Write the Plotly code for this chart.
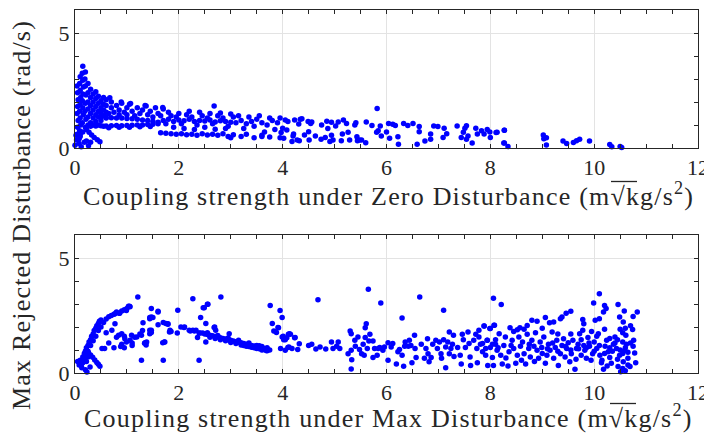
import plotly.graph_objects as go

# ---------------- top panel data (zero disturbance) ----------------
tA_x = [0.04,0.05,0.06,0.04,0.05,0.06,0.05,0.04, 0.1,0.09,0.11,0.1,0.09,0.1,0.11,0.1,0.09,0.1, 0.15,0.14,0.16,0.15,0.14,0.15,0.16,0.15,0.14,0.15, 0.2,0.21,0.19,0.2,0.21,0.2,0.19,0.2]
tA_y = [0.6,0.9,1.2,1.5,1.8,2.1,2.4,2.7, 0.5,0.75,1.0,1.3,1.6,1.9,2.2,2.5,2.8,3.1, 0.7,1.1,1.45,1.75,2.05,2.35,2.65,2.95,3.25,3.55, 0.9,1.25,1.6,1.95,2.3,2.7,3.0,3.3]
tB_x = [0.25,0.25,0.25,0.25,0.25,0.25, 0.3,0.3,0.3,0.3,0.3, 0.35,0.35,0.35,0.35,0.35, 0.4,0.4,0.4,0.4,0.4, 0.45,0.45,0.45,0.45,0.45, 0.5,0.5,0.5,0.5, 0.55,0.55,0.55,0.55,0.55, 0.6,0.6,0.6,0.6]
tB_y = [1.0,1.35,1.7,2.0,2.4,2.8, 1.1,1.5,1.85,2.2,2.55, 1.0,1.3,1.65,2.0,2.35, 1.15,1.45,1.8,2.15,2.45, 1.0,1.35,1.6,1.95,2.25, 1.2,1.5,1.75,2.05, 0.95,1.4,1.65,1.9,2.2, 1.3,1.55,1.85,2.1]
tC_x = [0.3,0.4,0.5,0.6,0.7,0.8,0.9,1.0,1.1,1.2,1.3,1.4,1.5,1.6, 0.65,0.85,1.05,1.25,1.45]
tC_y = [0.95,0.96,0.97,0.96,0.97,0.98,0.97,0.98,0.99,1.0,1.0,1.02,1.03,1.05, 0.88,0.9,0.9,0.92,0.93]
tD_x = [0.5,0.6,0.7,0.8,0.9,1.0,1.1,1.2,1.3,1.4,1.5,1.6]
tD_y = [1.35,1.33,1.32,1.3,1.3,1.28,1.27,1.25,1.22,1.2,1.16,1.12]
tE_x = [0.65,0.7,0.7,0.75,0.8,0.85,0.85,0.9,0.95,1.0,1.0,1.05,1.1,1.15,1.2,1.25,1.3,1.35,1.4,1.45,1.5,1.55,1.6,1.65,1.7, 0.67,0.89,1.07,1.37,1.69]
tE_y = [1.5,1.75,2.0,1.55,1.85,1.45,1.65,1.95,1.55,1.75,1.45,1.9,1.6,1.4,1.75,1.5,1.65,1.85,1.45,1.6,1.35,1.75,1.5,1.4,1.7, 2.19,2.0,1.93,1.83,1.76]
tF_x = [0.22,0.27,0.32,0.37,0.43,0.48, 0.02,0.06,0.1,0.0,0.08,0.12,0.18,0.22,0.26,0.3, 0.03,0.08]
tF_y = [0.8,0.68,0.56,0.46,0.36,0.27, 0.55,0.55,0.6,0.12,0.2,0.05,0.25,0.3,0.1,0.25, 0.35,0.4]
tG_x = [1.65,1.75,1.85,1.95,2.05,2.15,2.25,2.35,2.45,2.55,2.65,2.75,2.85,2.95,3.05, 3.0,3.2,3.45,3.6,3.75,3.95,4.2]
tG_y = [0.66,0.64,0.62,0.6,0.62,0.58,0.6,0.55,0.62,0.57,0.6,0.55,0.62,0.5,0.58, 0.45,0.5,0.45,0.5,0.48,0.45,0.52]
tH_x = [1.7,1.8,1.9,2.0,2.1,2.2,2.3,2.4,2.5,2.6,2.7,2.8,2.9,3.0,
        1.75,1.85,1.95,2.05,2.15,2.25,2.35,2.45,2.55,2.65,2.75,2.85,2.95,3.05,
        1.8,2.0,2.2,2.4,2.6,2.8,3.0,2.68,
        1.9,2.1,2.3,2.5,2.7,2.9,
        3.1,3.2,3.3,3.4,3.5,3.6,3.7,3.8,3.9,3.15,3.35,3.55,3.75,3.95,3.25,3.45,3.65,3.85,3.3,3.6]
tH_y = [1.2,1.25,1.15,1.22,1.18,1.25,1.15,1.2,1.17,1.22,1.13,1.18,1.15,1.12,
        1.05,1.4,1.35,1.05,1.45,1.35,1.0,1.4,1.3,1.05,1.4,1.3,0.95,1.35,
        1.55,1.5,1.6,1.55,1.5,1.52,1.48,1.83,
        0.9,0.85,0.8,0.9,0.82,0.85,
        1.1,1.2,1.05,1.15,1.25,1.1,1.0,1.2,1.1,1.4,1.35,1.4,1.3,1.3,0.85,0.95,0.7,0.8,0.6,0.55]
tI_x = [4.0,3.97,4.02,4.05,4.1,4.08,4.18,4.23,4.28,4.32,
        4.34,4.37,4.31,4.21,4.42,4.49,4.5,4.51,4.54,4.56,
        4.63,4.74,4.75,4.82,4.85,4.87,4.91,4.94,4.94,4.97,
        5.02,5.07,5.13,5.15,5.17,5.23,5.26,5.29,5.39,5.41,
        5.43,5.44,5.48,5.52,5.6,5.61,5.72,5.81,5.84,5.88,
        5.9,6.0,6.04,6.06,6.12,6.17,6.22,6.23,6.33,6.41,
        6.51,6.59,6.63,6.63,6.74,6.85,6.85,6.91,6.99,7.09,
        7.11,7.16,7.36,7.44,7.48,7.51,7.54,7.54,7.57,7.65,
        7.72,7.75,7.83,7.88,7.94,7.99,8.0,8.11,8.27,8.26,
        8.34,5.82]
tI_y = [0.86,0.67,0.42,1.22,1.15,0.78,0.28,1.22,0.35,0.32,
        1.25,1.27,1.04,0.61,0.57,1.15,0.71,0.35,1.07,1.13,
        0.52,0.38,1.0,0.46,1.16,0.85,0.28,1.12,0.55,0.35,
        0.96,1.13,0.32,0.61,1.22,1.07,0.68,0.35,1.0,1.1,
        0.49,0.32,0.35,0.35,0.23,1.13,0.98,0.68,0.75,0.96,
        0.52,0.70,1.07,0.42,1.03,0.98,0.49,0.16,1.07,0.98,
        1.07,0.16,0.93,0.71,0.30,0.61,0.38,0.96,0.93,0.46,
        0.86,0.62,0.96,0.46,0.68,0.86,0.97,0.38,0.52,0.22,
        0.86,0.61,0.75,0.61,0.80,0.70,0.46,0.67,0.77,0.22,
        0.06,1.72]
tJ_x = [8.13,8.27,8.27,9.02,9.03,9.08,9.08,9.4,9.47,9.6,9.66,9.72,9.91,10.3,10.34,10.5,10.53]
tJ_y = [0.69,0.77,0.22,0.57,0.4,0.45,0.13,0.3,0.2,0.24,0.32,0.38,0.3,0.15,0.05,0.07,0.02]

# ---------------- bottom panel data (max disturbance) ----------------
bA_x = [0.1,0.13,0.2,0.23,0.29,0.17,0.08,0.15,0.22,0.25,0.05,0.12]
bA_y = [0.55,0.23,0.14,0.04,0.26,0.63,0.35,0.45,0.5,0.7,0.5,0.35]
bB_x = [0.15,0.18,0.2,0.22,0.25,0.27,0.3,0.32,0.35,0.37,0.4,0.42,0.45,0.47,0.5,
        0.2,0.25,0.3,0.35,0.4,0.45,0.5,0.55,0.6,0.65,0.7,0.75,0.8,0.85,0.9,0.95,1.0,1.03,1.06]
bB_y = [0.7,0.85,0.95,1.1,1.2,1.35,1.45,1.6,1.7,1.85,1.95,2.05,2.15,2.25,2.3,
        0.75,0.95,1.2,1.4,1.6,1.85,2.0,2.2,2.35,2.45,2.5,2.55,2.65,2.6,2.7,2.75,2.8,2.9,2.88]
bC_x = [0.22,0.26,0.3,0.34,0.38,0.42,0.45,0.48, 0.52,0.57,0.75,0.95,1.1,0.6,0.65,0.8]
bC_y = [0.99,0.88,0.78,0.68,0.57,0.46,0.38,0.29, 1.06,1.06,1.1,1.1,1.2,1.75,1.3,1.55]
bD_x = [0.71,0.77,0.84,0.9,0.96,0.99,1.06,1.09,1.19,1.28,1.38,1.44,1.47,1.44,1.47,1.6,1.47,1.35,1.73,1.83,1.79,1.98,1.97,1.28,1.7,2.11,2.2,
        1.21,2.27,2.81,2.55,2.47,2.42,1.6,1.05,0.99,0.77,0.86,2.39,
        1.75,1.79,1.82,2.04,2.27,2.33,2.39,2.46,2.52,2.68,2.71,2.36,2.52,1.44,1.47,1.34,1.37,1.72,1.31,1.44,1.5,1.69,
        2.22,2.3,2.41,2.97,2.69,2.1,2.49,2.56,
        1.3,1.25,1.1,1.15,0.95,0.9,0.88,1.7,1.85,1.6]
bD_y = [1.86,2.14,1.64,1.71,1.49,1.35,1.42,1.64,1.56,1.64,1.35,1.71,1.86,2.36,2.44,2.65,2.8,1.31,1.35,1.86,2.14,2.73,1.74,0.55,0.55,2.0,1.86,
        3.3,3.23,3.3,2.99,2.84,2.41,2.69,2.9,2.72,2.58,2.6,0.55,
        2.15,2.12,1.78,2.0,1.86,1.86,1.74,1.74,2.15,1.98,1.86,1.54,1.35,1.86,1.76,1.29,1.22,1.35,2.18,2.41,2.41,1.32,
        1.83,1.83,1.74,1.71,2.0,1.98,2.84,2.99,
        1.85,1.7,1.3,1.55,1.6,1.25,1.15,2.2,1.8,2.1]
bE_x = [2.50,2.55,2.60,2.65,2.70,2.75,2.80,2.85,2.90,2.95,3.00,3.05,3.10,3.15,3.20,3.25,3.30,3.35,3.40,3.45,3.50,3.55,3.60,3.65,3.70,3.75,
        2.6,2.7,2.8,2.9,3.0,3.1,3.2,3.3,3.4,3.5,3.6,3.7,
        2.55,2.75,2.95,3.15,3.35,3.55,3.7,
        3.25,3.35,3.45,3.55,3.62,3.68,3.5,3.6]
bE_y = [1.70,1.67,1.64,1.62,1.59,1.56,1.53,1.50,1.48,1.45,1.42,1.39,1.36,1.34,1.31,1.28,1.25,1.22,1.20,1.17,1.14,1.11,1.08,1.06,1.03,1.00,
        1.55,1.5,1.45,1.4,1.33,1.28,1.22,1.16,1.12,1.06,1.0,0.97,
        1.75,1.63,1.52,1.42,1.3,1.18,1.1,
        1.2,1.15,1.1,1.05,1.02,0.98,1.2,1.15]
bF_x = [3.76,3.95,3.99,3.8,3.83,3.91,4.11,4.24,3.88,4.01,3.96,4.05,4.13,4.02,4.12,4.18,4.08,3.92,4.05,4.15,4.23,4.32,4.1,4.29,3.99]
bF_y = [2.94,2.72,2.41,2.15,1.83,1.98,1.68,1.54,1.76,1.6,1.06,0.99,1.71,1.45,1.13,1.06,1.53,1.97,1.45,1.68,1.53,1.27,1.11,1.02,1.57]
bG_x = [5.65,4.68,5.89,6.64,7.1,8.06,6.3,5.61,5.59,5.3,5.32,
        4.5,4.56,4.64,4.72,4.83,4.94,4.97,5.04,5.07,5.1,
        5.26,5.32,5.33,5.32,5.39,5.4,5.45,5.48,5.52,5.55,
        5.57,5.59,5.63,5.66,5.68,5.74,5.74,5.77,5.82,5.84,
        5.87,5.93,5.96,6.03,6.03,6.09,6.12,6.19,6.22,6.25,
        6.3,6.33,6.35,6.36,6.42,6.44,6.47,6.49,6.54,6.55,
        6.57,6.67,6.73,6.76,6.79,6.8,6.82,6.86,6.89,6.95,
        6.98,7.02,7.05,7.06,7.1,7.14,7.14,7.18,7.21,7.21,
        7.24,7.27,7.29,7.3,7.37,7.42,7.44,7.46,7.48,7.52,
        7.57,7.59,7.61,7.62,7.68,7.72,7.74,7.75,7.78,7.81,
        7.85,7.88,7.91,7.94,7.95,7.99,8.0,8.04,8.06,8.08,8.1]
bG_y = [3.64,3.19,3.04,3.3,2.73,3.25,2.39,2.14,1.97,1.83,1.71,
        1.2,1.25,1.04,1.13,1.04,1.35,1.06,1.16,1.35,1.06,
        0.84,0.99,0.58,0.17,1.42,1.16,1.57,1.02,0.84,1.25,
        0.77,1.54,1.06,1.39,1.68,1.39,0.67,1.06,0.77,1.06,
        1.11,0.99,1.13,0.55,1.31,1.13,1.28,0.39,0.92,1.02,
        0.77,0.29,1.16,1.35,1.16,1.42,1.2,0.45,1.64,1.06,
        0.67,1.25,0.64,1.06,1.49,0.84,0.49,0.67,1.25,1.42,
        1.06,1.35,0.84,0.64,1.45,0.23,1.13,1.35,1.78,0.84,
        1.06,1.25,1.64,0.72,1.11,0.77,0.39,1.68,1.45,1.11,
        1.78,1.28,0.7,0.33,1.42,1.68,1.06,0.45,1.86,1.25,
        0.92,2.04,0.77,1.42,0.33,1.93,1.11,0.67,0.33,2.08,1.25]
bH_x = [8.21,10.1,9.99,10.2,10.23,10.46,10.18,10.58,10.83,10.75,10.49,10.56,10.74,10.1,10.02,9.78,9.8,9.55,9.46,9.38,
        9.35,9.22,9.14,9.06,8.9,8.8,8.71,8.57,8.52,8.38,8.07,8.0,7.88]
bH_y = [2.98,3.45,3.04,2.94,2.8,2.98,2.65,2.7,2.65,2.46,2.44,2.22,1.89,2.36,2.29,2.33,2.14,2.69,2.6,2.44,
        2.36,2.22,2.18,2.41,2.25,2.29,2.07,1.97,1.88,1.97,2.08,1.93,2.04]
bI_x = [7.78,7.85,7.91,7.94,8.04,8.1,8.13,8.17,8.2,8.23,
        8.26,8.29,8.34,8.36,8.42,8.45,8.49,8.52,8.55,8.58,
        8.62,8.65,8.68,8.71,8.74,8.77,8.8,8.84,8.87,8.9,
        8.93,8.96,8.99,9.03,9.06,9.09,9.12,9.15,9.19,9.22,
        9.25,9.28,9.31,9.35,9.38,9.41,9.44,9.47,9.5,9.53,
        9.56,9.59,9.63,9.66,9.69,9.72,9.75,9.78,9.82,9.85,
        9.88,9.91,9.94,9.97,10.0,10.05,10.08,10.11,10.14,10.18,
        10.21,10.24,10.27,10.3,10.33,10.37,10.4,10.43,10.46,10.49,
        10.51,10.55,10.56,10.59,10.61,10.62,10.65,10.69,10.75,10.78,
        10.8,10.76]
bI_y = [1.57,1.28,1.06,1.42,1.25,1.45,0.99,1.71,0.77,0.39,
        1.2,1.57,0.3,0.92,1.42,1.06,0.42,0.77,1.57,1.16,
        1.35,0.84,0.39,1.68,1.06,0.7,1.42,1.16,1.75,0.99,
        0.64,1.35,1.11,1.57,0.42,0.77,1.25,0.99,1.78,0.64,
        1.11,1.42,0.33,0.84,1.2,1.49,0.7,1.06,1.31,0.49,
        0.84,1.42,0.16,1.06,1.25,1.71,0.77,1.86,0.99,0.64,
        1.54,1.16,0.55,0.84,1.35,1.06,1.71,0.77,0.45,0.16,
        1.16,1.42,0.92,0.67,0.42,1.25,1.57,1.06,0.28,0.77,
        0.05,1.35,0.49,0.99,1.64,1.25,0.64,0.28,1.16,0.87,
        0.45,1.42]
bJ_x = [9.9,10.0,10.1,10.2,10.3,10.35,10.4,10.45,10.5,10.55,
        10.6,10.65,10.7,10.3,10.45,10.5,10.6,10.7,10.55,10.2,
        10.05,9.95,10.15,10.25,10.55,10.6,10.65,
        8.15,8.3,8.4,8.6,8.75,8.85,9.0,9.1,9.2,9.3,9.45,9.55,9.65,9.7,9.8,9.85,8.45,8.65,9.0,9.3,9.55,9.75]
bJ_y = [1.3,0.95,1.2,0.85,1.1,0.95,1.3,0.6,1.0,0.85,
        1.1,0.9,1.3,1.5,1.45,1.9,1.95,2.05,1.75,1.9,
        1.6,1.8,0.55,0.3,0.2,0.1,0.35,
        1.1,0.65,1.2,0.55,1.25,0.5,0.85,1.05,1.3,0.95,1.15,1.0,0.6,1.05,1.2,1.1,1.8,1.9,1.95,1.7,1.7,1.45]

top_x = tA_x + tB_x + tC_x + tD_x + tE_x + tF_x + tG_x + tH_x + tI_x + tJ_x
top_y = tA_y + tB_y + tC_y + tD_y + tE_y + tF_y + tG_y + tH_y + tI_y + tJ_y
bot_x = bA_x + bB_x + bC_x + bD_x + bE_x + bF_x + bG_x + bH_x + bI_x + bJ_x
bot_y = bA_y + bB_y + bC_y + bD_y + bE_y + bF_y + bG_y + bH_y + bI_y + bJ_y

x_ticks = [0, 2, 4, 6, 8, 10, 12]
y_ticks = [0, 5]

def spaced(s):
    return "<span style='letter-spacing:1.2px'>" + s + "</span>"

xlabel_top = spaced("Coupling strength under Zero Disturbance (m√kg/s<sup>2</sup>)")
xlabel_bot = spaced("Coupling strength under Max Disturbance (m√kg/s<sup>2</sup>)")
ylabel = spaced("Max Rejected Disturbance (rad/s)")

W, H = 712, 433
OFF = 8  # the page body margin shifts the figure by this many pixels
FONT = "Liberation Serif"
AX = "#262626"
BLUE = "#0000ff"

def px_x(p):
    return (p - OFF) / W

def px_y(p):
    return (H - (p - OFF)) / H

fig = go.Figure()
fig.add_trace(go.Scatter(x=top_x, y=top_y, mode="markers", xaxis="x", yaxis="y",
                         marker=dict(color=BLUE, size=5.5, line=dict(width=0)), cliponaxis=False, showlegend=False))
fig.add_trace(go.Scatter(x=bot_x, y=bot_y, mode="markers", xaxis="x2", yaxis="y2",
                         marker=dict(color=BLUE, size=5.5, line=dict(width=0)), cliponaxis=False, showlegend=False))

xdom = [px_x(75), px_x(698)]
def ax_common(rng, vals, minor_dt):
    return dict(range=rng, tickvals=vals, ticktext=[str(v) for v in vals], showline=True, linecolor=AX, linewidth=1,
                mirror="allticks", ticks="inside", ticklen=4, tickcolor=AX, tickwidth=1,
                showgrid=True, gridcolor="#e3e3e3", gridwidth=1, zeroline=False, automargin=False,
                ticklabeloverflow="allow",
                tickfont=dict(family=FONT, size=22, color=AX),
                minor=dict(dtick=minor_dt, tick0=0, ticks="inside", ticklen=4, tickcolor=AX, showgrid=False))

# vinculum of the square root over "kg" in both axis labels
radical_bars = [
    dict(type="line", xref="paper", yref="paper", x0=px_x(611), x1=px_x(637), y0=px_y(181.5), y1=px_y(181.5),
         line=dict(color=AX, width=1.3)),
    dict(type="line", xref="paper", yref="paper", x0=px_x(610), x1=px_x(636), y0=px_y(403.5), y1=px_y(403.5),
         line=dict(color=AX, width=1.3)),
]

fig.update_layout(
    width=W, height=H, paper_bgcolor="white", plot_bgcolor="white",
    margin=dict(l=0, r=0, t=0, b=0, autoexpand=False),
    xaxis=dict(domain=xdom, anchor="y", **ax_common([0, 12], x_ticks, 0.5)),
    yaxis=dict(domain=[px_y(148), px_y(10)], anchor="x", **ax_common([0, 6], y_ticks, 1)),
    xaxis2=dict(domain=xdom, anchor="y2", **ax_common([0, 12], x_ticks, 0.5)),
    yaxis2=dict(domain=[px_y(373), px_y(235)], anchor="x2", **ax_common([0, 6], y_ticks, 1)),
    shapes=radical_bars,
    annotations=[
        dict(text=xlabel_top, x=px_x(388), y=px_y(194), xref="paper", yref="paper", showarrow=False,
             xanchor="center", yanchor="middle", font=dict(family=FONT, size=26, color=AX)),
        dict(text=xlabel_bot, x=px_x(388), y=px_y(416), xref="paper", yref="paper", showarrow=False,
             xanchor="center", yanchor="middle", font=dict(family=FONT, size=26, color=AX)),
        dict(text=ylabel, x=px_x(21), y=px_y(215), xref="paper", yref="paper", showarrow=False, textangle=-90,
             xanchor="center", yanchor="middle", font=dict(family=FONT, size=26, color=AX)),
    ],
)
fig.write_html("out.html")
